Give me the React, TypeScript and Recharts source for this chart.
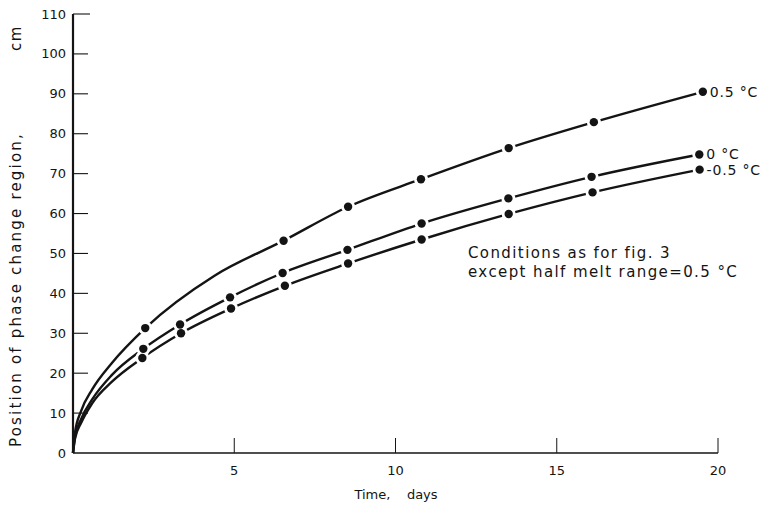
import React from 'react';
import { LineChart, Line, XAxis, YAxis } from 'recharts';

// marked points: time (days) / position (cm)
const warmDays = [2.24, 6.53, 8.53, 10.79, 13.51, 16.15, 19.53];
const warmCm = [31.3, 53.2, 61.7, 68.6, 76.4, 82.9, 90.5];
const zeroDays = [2.18, 3.32, 4.87, 6.5, 8.51, 10.81, 13.5, 16.08, 19.42];
const zeroCm = [26.1, 32.2, 39.0, 45.1, 50.9, 57.5, 63.8, 69.2, 74.8];
const coldDays = [2.15, 3.35, 4.9, 6.57, 8.53, 10.81, 13.51, 16.11, 19.43];
const coldCm = [23.8, 30.0, 36.2, 41.9, 47.5, 53.5, 59.9, 65.3, 71.0];

// unmarked points along each curve (mostly near the origin)
const warmTraceDays = [0, 0.06, 0.25, 0.6, 1.2, 4.4];
const warmTraceCm = [0, 5, 10.5, 16, 22.5, 44.5];
const zeroTraceDays = [0, 0.06, 0.25, 0.6, 1.2];
const zeroTraceCm = [0, 4, 8.5, 13.5, 19.5];
const coldTraceDays = [0, 0.06, 0.25, 0.6, 1.2];
const coldTraceCm = [0, 3.5, 7.5, 12.5, 17.8];

const seriesNames = ['0.5 °C', '0 °C', '-0.5 °C'];
const xTicks = [5, 10, 15, 20];
const yTicks = [0, 10, 20, 30, 40, 50, 60, 70, 80, 90, 100, 110];

const INK = '#141414';
const FONT = '"DejaVu Sans", sans-serif';

const pts = (d: number[], v: number[], m: boolean) => d.map((x, i) => ({ x, y: v[i], m }));
const marks = [pts(warmDays, warmCm, true), pts(zeroDays, zeroCm, true), pts(coldDays, coldCm, true)];
const curves = [
  [...pts(warmTraceDays, warmTraceCm, false), ...marks[0]],
  [...pts(zeroTraceDays, zeroTraceCm, false), ...marks[1]],
  [...pts(coldTraceDays, coldTraceCm, false), ...marks[2]],
].map((c) => c.sort((a, b) => a.x - b.x));

const YTick = (p: any) => {
  const v = p.payload.value;
  return (
    <g>
      {v > 0 && <line x1={p.x} x2={p.x + (v === 110 ? 17 : 15)} y1={p.y} y2={p.y} stroke={INK} strokeWidth={1.1} />}
      <text x={p.x - 7} y={p.y} textAnchor="end" dominantBaseline="central" fontSize={13} fontFamily={FONT} fill={INK}>
        {v}
      </text>
    </g>
  );
};

const XTick = (p: any) => (
  <g>
    <line x1={p.x} x2={p.x} y1={p.y} y2={p.y - 15} stroke={INK} strokeWidth={1} />
    <text x={p.x} y={p.y + 17} textAnchor="middle" dominantBaseline="central" fontSize={13} fontFamily={FONT} fill={INK}>
      {p.payload.value}
    </text>
  </g>
);

// white ring that breaks the curve around each marked point
const haloLabel = (i: number, c: { m: boolean }[]) => (p: any) =>
  c[p.index]?.m ? <circle key={`h${i}-${p.index}`} cx={p.x} cy={p.y} r={7} fill="#fff" /> : <g key={`e${i}-${p.index}`} />;

const dotLabel = (i: number, last: number) => (p: any) => (
  <g key={`d${i}-${p.index}`}>
    <circle cx={p.x} cy={p.y} r={4.2} fill={INK} />
    {p.index === last && (
      <text x={p.x + 7} y={p.y} dominantBaseline="central" fontSize={14} letterSpacing={0.8} fontFamily={FONT} fill={INK}>
        {seriesNames[i]}
      </text>
    )}
  </g>
);

export default function App() {
  return (
    <div style={{ position: 'absolute', left: 0, top: 0, width: 766, height: 506, background: '#fff' }}>
      <LineChart width={766} height={506} margin={{ top: 14, right: 48, bottom: 23, left: 13 }}>
        <XAxis
          type="number"
          dataKey="x"
          domain={[0, 20]}
          ticks={xTicks}
          tickSize={0}
          tickMargin={0}
          tick={<XTick />}
          axisLine={{ stroke: INK, strokeWidth: 1.6 }}
          tickLine={false}
          height={30}
        />
        <YAxis
          type="number"
          domain={[0, 110]}
          ticks={yTicks}
          tickSize={0}
          tickMargin={0}
          tick={<YTick />}
          axisLine={{ stroke: INK, strokeWidth: 2.2 }}
          tickLine={false}
          width={60}
        />
        {curves.map((c, i) => (
          <Line
            key={`c${i}`}
            data={c}
            dataKey="y"
            type="monotone"
            stroke={INK}
            strokeWidth={2.4}
            dot={false}
            activeDot={false}
            label={haloLabel(i, c)}
            isAnimationActive={false}
          />
        ))}
        {marks.map((m, i) => (
          <Line
            key={`m${i}`}
            data={m}
            dataKey="y"
            stroke="none"
            dot={false}
            activeDot={false}
            label={dotLabel(i, m.length - 1)}
            isAnimationActive={false}
          />
        ))}
      </LineChart>
      <svg width={766} height={506} style={{ position: 'absolute', left: 0, top: 0, pointerEvents: 'none' }}>
        <g fontFamily={FONT} fill={INK}>
          <text transform="translate(16,447) rotate(-90)" dominantBaseline="central" fontSize={15} letterSpacing={2.2}>
            Position of phase change region,
          </text>
          <text transform="translate(16,38) rotate(-90)" textAnchor="middle" dominantBaseline="central" fontSize={15} letterSpacing={1.6}>
            cm
          </text>
          <text x={396} y={494} textAnchor="middle" dominantBaseline="central" fontSize={13} style={{ whiteSpace: 'pre' }}>
            {'Time,    days'}
          </text>
          <text x={468} y={253} dominantBaseline="central" fontSize={15} letterSpacing={1.4}>
            Conditions as for fig. 3
          </text>
          <text x={468} y={272} dominantBaseline="central" fontSize={15} letterSpacing={1.4}>
            except half melt range=0.5 °C
          </text>
        </g>
      </svg>
    </div>
  );
}
